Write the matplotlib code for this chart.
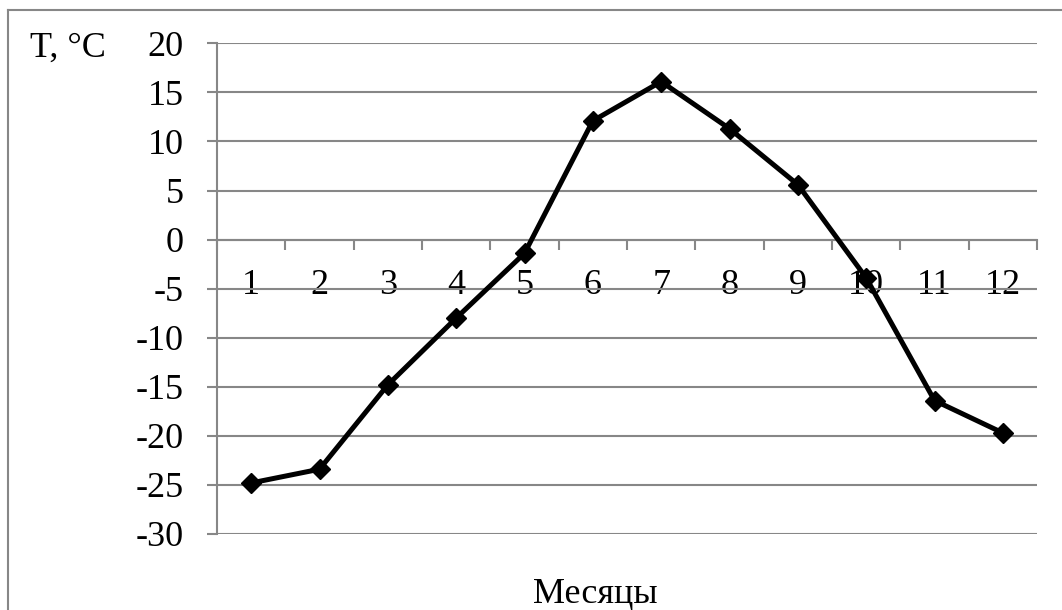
import matplotlib.pyplot as plt
from matplotlib.lines import Line2D
import numpy as np

# Monthly mean air temperature
months = ['1', '2', '3', '4', '5', '6', '7', '8', '9', '10', '11', '12']
temps = [-24.8, -23.4, -14.8, -8.0, -1.4, 12.1, 16.1, 11.3, 5.6, -3.9, -16.4, -19.7]
y_ticks = [-30, -25, -20, -15, -10, -5, 0, 5, 10, 15, 20]

plt.rcParams['font.family'] = ['Liberation Serif', 'DejaVu Serif']
grid_col = '#878787'
fs = 26

fig = plt.figure(figsize=(10.62, 6.10), dpi=100)
ax = fig.add_axes([217 / 1062, 1 - 534 / 610, 820 / 1062, (534 - 43.3) / 610])

x = np.arange(1, len(months) + 1)
ax.plot(x, temps, color='black', linewidth=3.6, marker='D', markersize=10.5,
        markerfacecolor='black', markeredgecolor='black', zorder=5, clip_on=False)

ax.set_xlim(0.5, len(months) + 0.5)
ax.set_ylim(-30, 20)

# horizontal gridlines
ax.set_yticks(y_ticks)
ax.set_yticklabels([str(v) for v in y_ticks], fontsize=fs)
ax.yaxis.grid(True, color=grid_col, linewidth=1.5)
ax.tick_params(axis='y', direction='out', length=7.2, width=1.5, color=grid_col, pad=17)

# category axis sits on zero, tick marks between categories
ax.spines['bottom'].set_position(('data', 0))
ax.spines['bottom'].set_color(grid_col)
ax.spines['bottom'].set_linewidth(1.5)
ax.set_xticks(np.arange(0.5, len(months) + 1, 1.0))
ax.set_xticklabels([])
ax.set_xticks(x, minor=True)
ax.set_xticklabels(months, minor=True, fontsize=fs)
ax.tick_params(axis='x', which='major', direction='out', length=7.2, width=1.5, color=grid_col)
ax.tick_params(axis='x', which='minor', length=0, pad=21)

ax.spines['left'].set_color(grid_col)
ax.spines['left'].set_linewidth(1.5)
ax.spines['top'].set_visible(False)
ax.spines['right'].set_visible(False)
ax.set_axisbelow(True)

fig.text(30 / 1062, 1 - 57 / 610, 'T, °C', fontsize=fs, ha='left', va='baseline')
fig.text(595 / 1062, 1 - 603 / 610, 'Месяцы', fontsize=fs, ha='center', va='baseline')

# chart frame (top and left edges)
fx = 8 / 1062
fy = 1 - 10 / 610
fig.lines.append(Line2D([fx, 1.0], [fy, fy], transform=fig.transFigure,
                        color=grid_col, linewidth=1.5))
fig.lines.append(Line2D([fx, fx], [0.0, fy], transform=fig.transFigure,
                        color=grid_col, linewidth=1.5))

fig.savefig('out.png', dpi=100)
